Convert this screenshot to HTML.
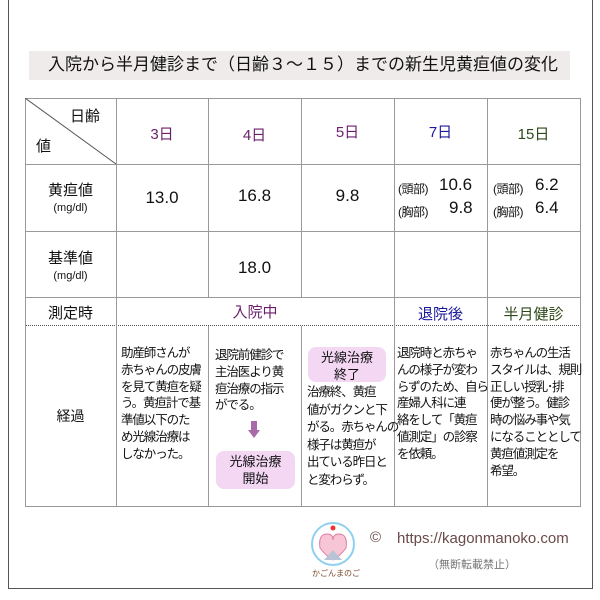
<!DOCTYPE html>
<html><head><meta charset="utf-8"><style>
body{margin:0;width:600px;height:600px;background:#fff;position:relative;overflow:hidden;font-family:"Liberation Sans","Noto Sans CJK JP",sans-serif;color:#111}
.a{position:absolute}
.h{position:absolute;height:1px;background:#999}
.v{position:absolute;width:1px;background:#999}
.c{position:absolute;text-align:center}
.t{position:absolute;font-size:12.5px;line-height:16.8px;white-space:nowrap;letter-spacing:-1.1px}
.pill{position:absolute;background:#f3d7f3;border-radius:8px;text-align:center;font-size:13px;line-height:17px}
</style></head><body>
<div class="a" style="left:8px;top:-2px;width:583px;height:590px;border:1px solid #555;border-width:0 1px 1px 1px"></div>
<div class="a" style="left:29px;top:51px;width:541px;height:29px;background:#efebeb"></div>
<div class="a" style="left:48px;top:54px;font-size:17px;line-height:22px;white-space:nowrap">入院から半月健診まで（日齢３～１５）までの新生児黄疸値の変化</div>

<div class="h" style="left:25px;top:98px;width:556px"></div>
<div class="h" style="left:25px;top:164px;width:556px"></div>
<div class="h" style="left:25px;top:231px;width:556px"></div>
<div class="h" style="left:25px;top:297px;width:556px"></div>
<div class="a" style="left:25px;top:325px;width:556px;border-top:1px dotted #555"></div>
<div class="h" style="left:25px;top:506px;width:556px"></div>
<div class="v" style="left:25px;top:98px;height:409px"></div>
<div class="v" style="left:580px;top:98px;height:409px"></div>
<div class="v" style="left:116px;top:98px;height:409px"></div>
<div class="v" style="left:208px;top:98px;height:199px"></div>
<div class="v" style="left:208px;top:326px;height:180px"></div>
<div class="v" style="left:301px;top:98px;height:199px"></div>
<div class="v" style="left:301px;top:326px;height:180px"></div>
<div class="v" style="left:394px;top:98px;height:409px"></div>
<div class="v" style="left:487px;top:98px;height:409px"></div>
<svg class="a" style="left:25px;top:98px" width="92" height="67"><line x1="0" y1="0" x2="91" y2="66" stroke="#555" stroke-width="1"/></svg>
<div class="a" style="left:70px;top:105px;font-size:15px">日齢</div>
<div class="a" style="left:36px;top:135px;font-size:15px">値</div>

<div class="c" style="left:116px;top:123px;width:92px;font-size:15px;color:#6b1f6b">3日</div>
<div class="c" style="left:208px;top:124px;width:93px;font-size:15px;color:#6b1f6b">4日</div>
<div class="c" style="left:301px;top:121px;width:93px;font-size:15px;color:#6b1f6b">5日</div>
<div class="c" style="left:394px;top:121px;width:93px;font-size:15px;color:#1a1a9a">7日</div>
<div class="c" style="left:487px;top:123px;width:93px;font-size:15px;color:#2d4a1a">15日</div>

<div class="c" style="left:25px;top:179px;width:91px;font-size:15px">黄疸値</div>
<div class="c" style="left:25px;top:202px;width:91px;font-size:11px">(mg/dl)</div>
<div class="c" style="left:116px;top:188px;width:92px;font-size:17px">13.0</div>
<div class="c" style="left:208px;top:186px;width:93px;font-size:17px">16.8</div>
<div class="c" style="left:301px;top:186px;width:93px;font-size:17px">9.8</div>
<div class="a" style="left:398px;top:180px;font-size:12px;letter-spacing:-0.5px">(頭部)</div>
<div class="a" style="left:439px;top:175px;font-size:17px">10.6</div>
<div class="a" style="left:398px;top:203px;font-size:12px;letter-spacing:-0.5px">(胸部)</div>
<div class="a" style="left:449px;top:198px;font-size:17px">9.8</div>
<div class="a" style="left:493px;top:180px;font-size:12px;letter-spacing:-0.5px">(頭部)</div>
<div class="a" style="left:535px;top:175px;font-size:17px">6.2</div>
<div class="a" style="left:493px;top:203px;font-size:12px;letter-spacing:-0.5px">(胸部)</div>
<div class="a" style="left:535px;top:198px;font-size:17px">6.4</div>

<div class="c" style="left:25px;top:247px;width:91px;font-size:15px">基準値</div>
<div class="c" style="left:25px;top:270px;width:91px;font-size:11px">(mg/dl)</div>
<div class="c" style="left:208px;top:258px;width:93px;font-size:17px">18.0</div>

<div class="c" style="left:25px;top:302px;width:91px;font-size:15px">測定時</div>
<div class="c" style="left:116px;top:301px;width:278px;font-size:15px;color:#6b1f6b">入院中</div>
<div class="c" style="left:394px;top:303px;width:93px;font-size:15px;color:#1a1a9a">退院後</div>
<div class="c" style="left:487px;top:303px;width:93px;font-size:15px;color:#2d4a1a">半月健診</div>

<div class="c" style="left:25px;top:406px;width:91px;font-size:14px">経過</div>
<div class="t" style="left:121px;top:345px">助産師さんが<br>赤ちゃんの皮膚<br>を見て黄疸を疑<br>う。黄疸計で基<br>準値以下のた<br>め光線治療は<br>しなかった。</div>
<div class="t" style="left:215px;top:347px">退院前健診で<br>主治医より黄<br>疸治療の指示<br>がでる。</div>
<svg class="a" style="left:248px;top:421px" width="12" height="18"><rect x="3" y="0" width="6" height="10" fill="#a86aa8"/><polygon points="0,9 12,9 6,17" fill="#a86aa8"/></svg>
<div class="pill" style="left:216px;top:451px;width:79px;height:36px;padding-top:2px">光線治療<br>開始</div>
<div class="pill" style="left:308px;top:347px;width:78px;height:33px;padding-top:2px">光線治療<br>終了</div>
<div class="t" style="left:307px;top:384px;line-height:17.6px">治療終、黄疸<br>値がガクンと下<br>がる。赤ちゃんの<br>様子は黄疸が<br>出ている昨日と<br>と変わらず。</div>
<div class="t" style="left:397px;top:345px">退院時と赤ちゃ<br>んの様子が変わ<br>らずのため、自ら<br>産婦人科に連<br>絡をして「黄疸<br>値測定」の診察<br>を依頼。</div>
<div class="t" style="left:490px;top:345px">赤ちゃんの生活<br>スタイルは、規則<br>正しい授乳･排<br>便が整う。健診<br>時の悩み事や気<br>になることとして<br>黄疸値測定を<br>希望。</div>

<svg class="a" style="left:310px;top:520px" width="50" height="60">
<circle cx="23" cy="24" r="21" fill="#fff" stroke="#8fd0ef" stroke-width="2"/>
<path d="M10 28 Q8 14 17 14 Q23 14 23 20 Q23 14 29 14 Q38 14 36 28 Q30 36 23 40 Q16 36 10 28Z" fill="#f7c6d6" stroke="#e07aa0"/>
<polygon points="14,40 23,30 32,40" fill="#b9c3d6"/>
<circle cx="23" cy="8" r="2.5" fill="#e33"/>
<text x="2" y="56" font-size="8" fill="#7a4a2a" font-family="Noto Sans CJK JP,sans-serif">かごんまのご</text>
</svg>
<div class="a" style="left:370px;top:529px;font-size:15px;color:#6a4a4a">©</div>
<div class="a" style="left:397px;top:530px;font-size:15px;color:#6a4a4a">https://kagonmanoko.com</div>
<div class="a" style="left:428px;top:556px;font-size:11px;color:#777">（無断転載禁止）</div>
</body></html>
